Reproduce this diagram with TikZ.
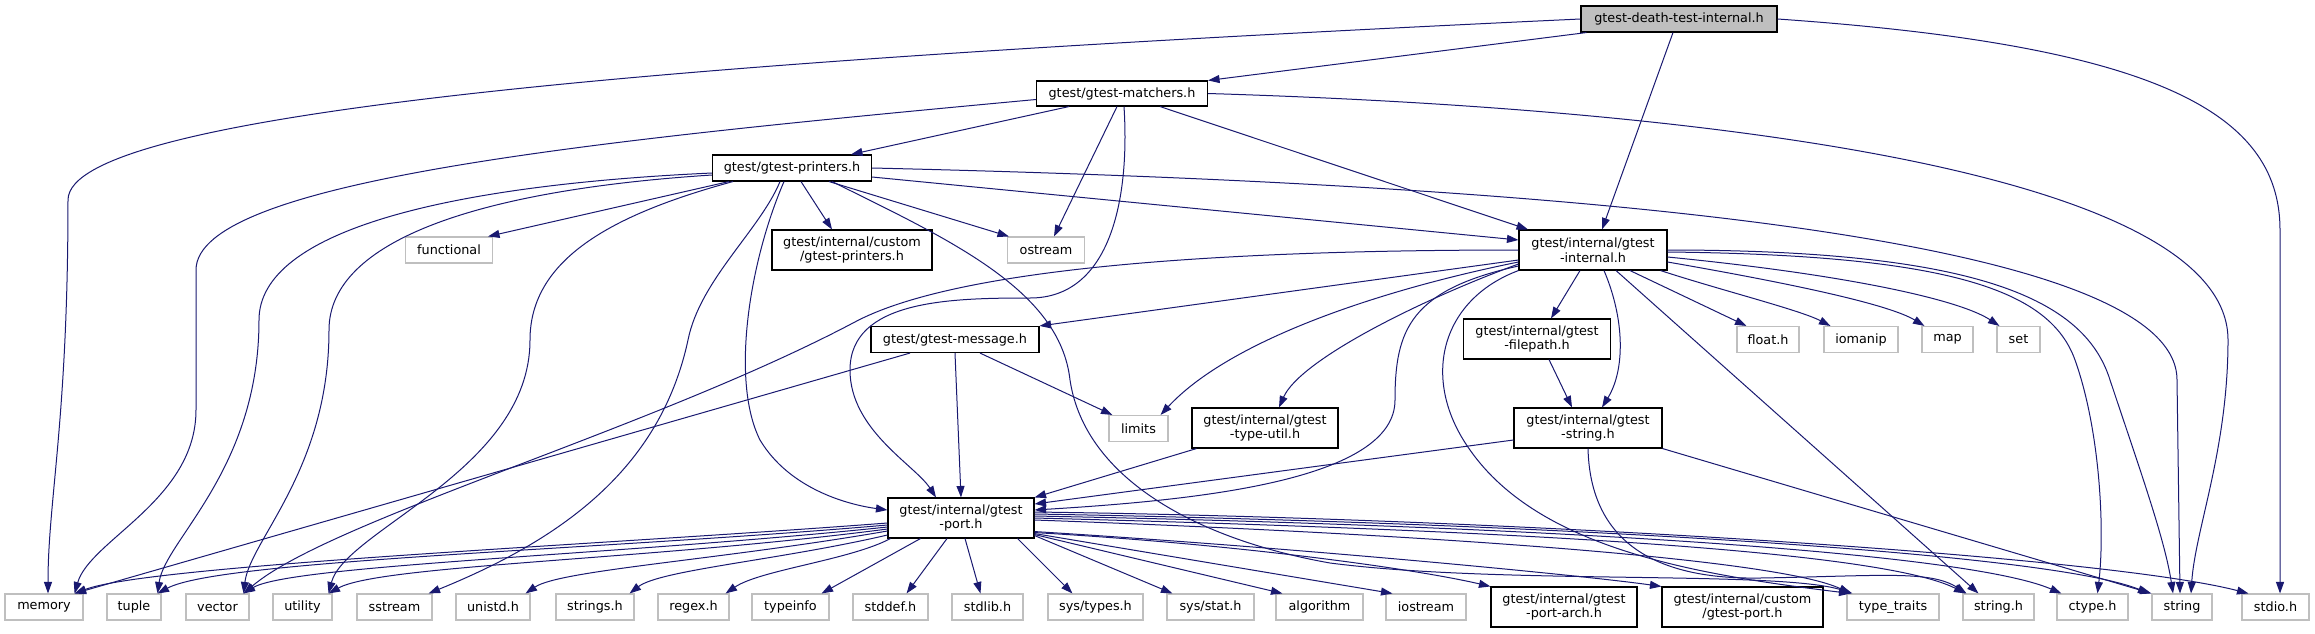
\documentclass[tikz,border=0pt]{standalone}
\usepackage{fontspec}
\setmainfont{DejaVu Sans}
\usetikzlibrary{arrows.meta}
\definecolor{edgeblue}{HTML}{191970}
\definecolor{rootgrey}{HTML}{BFBFBF}
\definecolor{sysgrey}{HTML}{BFBFBF}
\begin{document}
\begin{tikzpicture}[x=1pt,y=-1pt,
  every node/.style={font=\fontsize{12.8}{14.7}\selectfont, inner sep=0pt, align=center},
  hdrbox/.style={draw=black, fill=white, line width=1.1pt, minimum height=26},
  hdrtwo/.style={hdrbox, minimum height=40},
  sysbox/.style={draw=sysgrey, fill=white, line width=1.1pt, minimum height=26},
  rootbox/.style={hdrbox, fill=rootgrey},
  dep/.style={draw=edgeblue, line width=1pt, -{Triangle[length=11.5pt,width=8pt]}}]
\useasboundingbox (0,0) rectangle (2315,633);

\node [rootbox, minimum width=196] (root) at (1679,19) {gtest-death-test-internal.h};
\node [hdrbox, minimum width=171, minimum height=25] (matchers) at (1122,93.5) {gtest/gtest-matchers.h};
\node [hdrbox, minimum width=159] (printers) at (792,168) {gtest/gtest-printers.h};
\node [sysbox, minimum width=87] (functional) at (449,250) {functional};
\node [hdrtwo, minimum width=160] (cprinters) at (852,250) {gtest/internal/custom\\/gtest-printers.h};
\node [sysbox, minimum width=77] (ostream) at (1046,250) {ostream};
\node [hdrtwo, minimum width=148] (internal) at (1593,250) {gtest/internal/gtest\\-internal.h};
\node [hdrbox, minimum width=168] (message) at (955,339.5) {gtest/gtest-message.h};
\node [hdrtwo, minimum width=147] (filepath) at (1537,339) {gtest/internal/gtest\\-filepath.h};
\node [sysbox, minimum width=62] (floath) at (1768,339.5) {float.h};
\node [sysbox, minimum width=74] (iomanip) at (1861,339.5) {iomanip};
\node [sysbox, minimum width=51] (map) at (1947.5,339.5) {map};
\node [sysbox, minimum width=43] (set) at (2018.5,339.5) {set};
\node [sysbox, minimum width=59] (limits) at (1138.5,428.5) {limits};
\node [hdrtwo, minimum width=146] (typeutil) at (1265,428) {gtest/internal/gtest\\-type-util.h};
\node [hdrtwo, minimum width=148] (gstring) at (1588,428) {gtest/internal/gtest\\-string.h};
\node [hdrtwo, minimum width=146] (port) at (961,518) {gtest/internal/gtest\\-port.h};

\node [sysbox, minimum width=78] (memory) at (44,607) {memory};
\node [sysbox, minimum width=54] (tuple) at (134,607) {tuple};
\node [sysbox, minimum width=63] (vector) at (217.5,607) {vector};
\node [sysbox, minimum width=59] (utility) at (302.5,607) {utility};
\node [sysbox, minimum width=75] (sstream) at (394.5,607) {sstream};
\node [sysbox, minimum width=74] (unistd) at (493,607) {unistd.h};
\node [sysbox, minimum width=78] (strings) at (595,607) {strings.h};
\node [sysbox, minimum width=71] (regex) at (693.5,607) {regex.h};
\node [sysbox, minimum width=77] (typeinfo) at (790.5,607) {typeinfo};
\node [sysbox, minimum width=75] (stddef) at (890.5,607) {stddef.h};
\node [sysbox, minimum width=71] (stdlib) at (987.5,607) {stdlib.h};
\node [sysbox, minimum width=95] (systypes) at (1095.5,607) {sys/types.h};
\node [sysbox, minimum width=87] (sysstat) at (1210.5,607) {sys/stat.h};
\node [sysbox, minimum width=87] (algorithm) at (1319.5,607) {algorithm};
\node [sysbox, minimum width=80] (iostream) at (1426,607) {iostream};
\node [hdrtwo, minimum width=146] (portarch) at (1564,607) {gtest/internal/gtest\\-port-arch.h};
\node [hdrtwo, minimum width=161] (cport) at (1742.5,607) {gtest/internal/custom\\/gtest-port.h};
\node [sysbox, minimum width=92] (typetraits) at (1893,607) {type\_traits};
\node [sysbox, minimum width=71] (stringh) at (1998.5,607) {string.h};
\node [sysbox, minimum width=71] (ctype) at (2092.5,607) {ctype.h};
\node [sysbox, minimum width=60] (string) at (2182,607) {string};
\node [sysbox, minimum width=67] (stdio) at (2275.5,607) {stdio.h};

% gtest-death-test-internal.h
\draw[dep] (root.west) .. controls (700,60) and (68,110) .. (68,200) .. controls (68,420) and (48,500) .. ([xshift=4pt]memory.north);
\draw[dep] ([xshift=6pt]root.south west) -- (matchers.north east);
\draw[dep] ([xshift=-6pt]root.south) -- ([xshift=9pt]internal.north);
\draw[dep] (root.east) .. controls (2150,45) and (2280,110) .. (2280,230) -- ([xshift=4.5pt]stdio.north);

% gtest-matchers.h
\draw[dep] ([yshift=-6pt]matchers.west) .. controls (600,140) and (196,180) .. (196,270) -- (196,410) .. controls (196,500) and (90,540) .. ([xshift=-9pt]memory.north east);
\draw[dep] ([xshift=-53pt]matchers.south) -- ([xshift=59pt]printers.north);
\draw[dep] ([xshift=-5pt]matchers.south) -- ([xshift=8pt]ostream.north);
\draw[dep] ([xshift=2pt]matchers.south) .. controls (1130,200) and (1110,298) .. (1030,298) .. controls (950,298) and (850,300) .. (850,370) .. controls (850,430) and (915,465) .. ([xshift=-25pt]port.north);
\draw[dep] ([xshift=38pt]matchers.south) -- ([xshift=-65pt]internal.north);
\draw[dep] (matchers.east) .. controls (1750,110) and (2228,180) .. (2228,340) .. controls (2228,450) and (2195,530) .. ([xshift=9pt]string.north);

% gtest-printers.h
\draw[dep] ([yshift=-5pt]printers.west) .. controls (450,185) and (259,230) .. (259,320) .. controls (259,470) and (165,540) .. ([xshift=-4pt]tuple.north east);
\draw[dep] ([yshift=-7pt]printers.west) .. controls (480,190) and (329,240) .. (329,330) .. controls (329,470) and (250,540) .. ([xshift=-6pt]vector.north east);
\draw[dep] ([xshift=17pt]printers.south west) -- ([xshift=-5pt]functional.north east);
\draw[dep] ([xshift=21pt]printers.south west) .. controls (610,215) and (530,260) .. (530,340) .. controls (530,470) and (345,530) .. ([xshift=-4pt]utility.north east);
\draw[dep] ([xshift=-12pt]printers.south) .. controls (760,230) and (700,280) .. (688,340) .. controls (660,470) and (560,540) .. ([xshift=-4pt]sstream.north east);
\draw[dep] ([xshift=-8pt]printers.south) .. controls (750,260) and (730,380) .. (760,440) .. controls (790,490) and (850,505) .. ([yshift=8pt]port.west);
\draw[dep] ([xshift=9pt]printers.south) -- ([xshift=-20pt]cprinters.north);
\draw[dep] ([xshift=37pt]printers.south) -- ([xshift=2pt]ostream.north west);
\draw[dep] ([xshift=40pt]printers.south) .. controls (950,240) and (1060,290) .. (1070,380) .. controls (1085,480) and (1200,540) .. (1330,563) .. controls (1500,585) and (1780,570) .. ([xshift=6pt]typetraits.north west);
\draw[dep] (printers.east) .. controls (1600,185) and (2177,240) .. (2177,380) -- ([xshift=-2pt]string.north);
\draw[dep] ([yshift=-9pt]printers.east) -- ([yshift=10pt]internal.west);

% gtest-internal.h
\draw[dep] (internal.west) .. controls (1200,250) and (950,270) .. (853,323) .. controls (650,430) and (330,520) .. ([xshift=-6pt]vector.north east);
\draw[dep] ([yshift=-10pt]internal.west) -- (message.north east);
\draw[dep] ([yshift=-12pt]internal.west) .. controls (1380,290) and (1230,340) .. ([xshift=-8pt]limits.north east);
\draw[dep] ([yshift=-14pt]internal.west) .. controls (1420,300) and (1300,360) .. ([xshift=14pt]typeutil.north);
\draw[dep] ([yshift=-16pt]internal.west) .. controls (1410,290) and (1395,330) .. (1395,400) .. controls (1395,480) and (1200,500) .. ([yshift=8pt]port.east);
\draw[dep] (internal.south west) .. controls (1440,300) and (1420,380) .. (1470,450) .. controls (1540,550) and (1700,575) .. ([xshift=4pt]typetraits.north west);
\draw[dep] ([xshift=-13pt]internal.south) -- ([xshift=14pt]filepath.north);
\draw[dep] ([xshift=11pt]internal.south) .. controls (1625,320) and (1625,370) .. ([xshift=14pt]gstring.north);
\draw[dep] ([xshift=23pt]internal.south) -- ([xshift=-20pt]stringh.north);
\draw[dep] ([xshift=37pt]internal.south) -- ([xshift=10pt]floath.north west);
\draw[dep] ([xshift=-7pt]internal.south east) .. controls (1720,290) and (1800,310) .. ([xshift=7pt]iomanip.north west);
\draw[dep] ([yshift=-12pt]internal.east) .. controls (1800,285) and (1890,305) .. ([xshift=3pt]map.north west);
\draw[dep] ([yshift=-7pt]internal.east) .. controls (1850,275) and (1960,300) .. ([xshift=3pt]set.north west);
\draw[dep] ([yshift=-2pt]internal.east) .. controls (1950,255) and (2050,290) .. (2075,360) .. controls (2100,430) and (2105,530) .. ([xshift=5pt]ctype.north);
\draw[dep] (internal.east) .. controls (1980,250) and (2085,300) .. (2110,380) .. controls (2140,470) and (2165,540) .. ([xshift=-9pt]string.north);

% gtest-message.h
\draw[dep] ([xshift=-45pt]message.south) -- ([xshift=-9pt]memory.north east);
\draw[dep] (message.south) -- (port.north);
\draw[dep] ([xshift=25pt]message.south) -- ([xshift=4pt]limits.north west);

% filepath, string, type-util
\draw[dep] ([xshift=12pt]filepath.south) -- ([xshift=-16pt]gstring.north);
\draw[dep] ([yshift=-12pt]gstring.west) -- ([yshift=14pt]port.east);
\draw[dep] (gstring.south) .. controls (1590,530) and (1640,580) .. (1760,578) .. controls (1880,576) and (1930,570) .. ([xshift=-32pt]stringh.north);
\draw[dep] (gstring.south east) -- (string.north west);
\draw[dep] ([xshift=5pt]typeutil.south west) -- (port.north east);

% gtest-port.h
\draw[dep] ([yshift=-5pt]port.west) .. controls (600,545) and (150,565) .. ([xshift=-9pt]memory.north east);
\draw[dep] ([yshift=-7pt]port.west) .. controls (600,550) and (220,560) .. ([xshift=-4pt]tuple.north east);
\draw[dep] ([yshift=-9pt]port.west) .. controls (620,555) and (290,565) .. ([xshift=-6pt]vector.north east);
\draw[dep] ([yshift=-11pt]port.west) .. controls (650,560) and (380,565) .. ([xshift=-4pt]utility.north east);
\draw[dep] ([yshift=-13pt]port.west) .. controls (720,560) and (560,570) .. ([xshift=-5pt]unistd.north east);
\draw[dep] ([yshift=-17pt]port.west) .. controls (780,560) and (660,570) .. ([xshift=-5pt]strings.north east);
\draw[dep] ([xshift=3pt]port.south west) .. controls (850,560) and (760,570) .. ([xshift=-4pt]regex.north east);
\draw[dep] ([xshift=33pt]port.south west) -- ([xshift=-8pt]typeinfo.north east);
\draw[dep] ([xshift=-14pt]port.south) -- ([xshift=-22pt]stddef.north east);
\draw[dep] ([xshift=4pt]port.south) -- ([xshift=-7pt]stdlib.north);
\draw[dep] ([xshift=-17pt]port.south east) -- ([xshift=25pt]systypes.north west);
\draw[dep] ([yshift=3pt]port.south east) -- ([xshift=6pt]sysstat.north west);
\draw[dep] ([yshift=4pt]port.south east) -- ([xshift=7pt]algorithm.north west);
\draw[dep] ([yshift=5pt]port.south east) -- ([xshift=7pt]iostream.north west);
\draw[dep] ([yshift=6pt]port.south east) .. controls (1250,545) and (1420,570) .. (portarch.north west);
\draw[dep] ([yshift=7pt]port.south east) .. controls (1300,548) and (1580,575) .. (cport.north west);
\draw[dep] ([yshift=-2pt]port.east) .. controls (1450,535) and (1780,560) .. ([xshift=4pt]typetraits.north west);
\draw[dep] (port.east) .. controls (1500,530) and (1880,550) .. ([xshift=3pt]stringh.north west);
\draw[dep] ([yshift=2pt]port.east) .. controls (1500,525) and (1960,550) .. ([xshift=5pt]ctype.north west);
\draw[dep] ([yshift=4pt]port.east) .. controls (1500,522) and (2040,550) .. ([xshift=-2pt]string.north west);
\draw[dep] ([yshift=6pt]port.east) .. controls (1500,518) and (2100,555) .. ([xshift=7pt]stdio.north west);
\end{tikzpicture}
\end{document}
